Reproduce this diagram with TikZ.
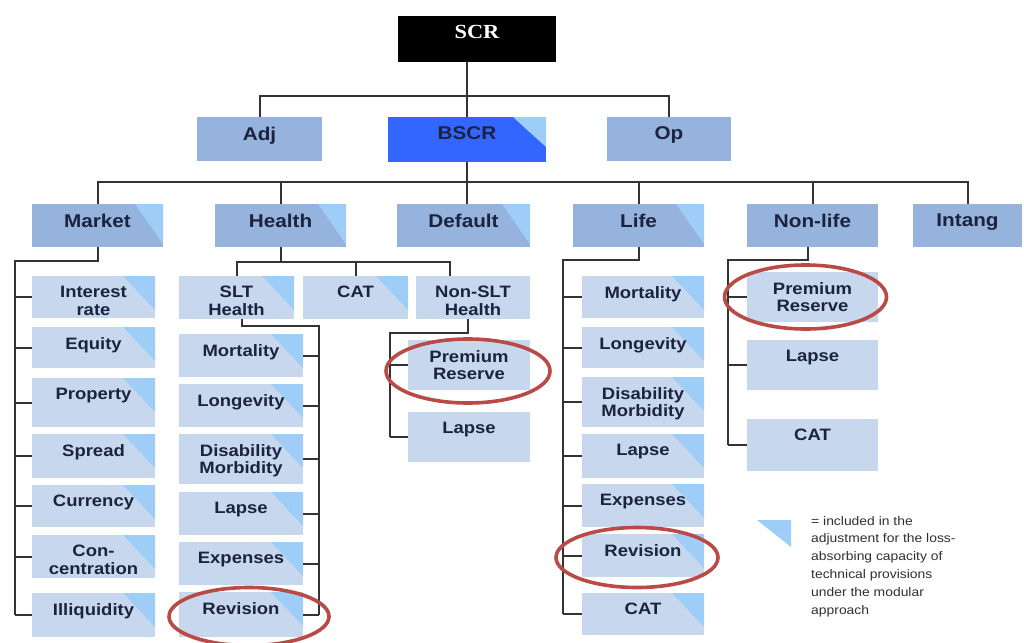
\documentclass[tikz,border=0pt]{standalone}
\usepackage{fontspec}
\newfontfamily\boxfont[FakeStretch=1.12]{Liberation Sans}
\newfontfamily\topfont[FakeStretch=1.12]{Liberation Serif}
\usetikzlibrary{calc}

\definecolor{lvlfill}{HTML}{95B3DC}
\definecolor{subfill}{HTML}{C7D8EE}
\definecolor{triblue}{HTML}{9ECDF8}
\definecolor{bscrblue}{HTML}{3366FF}
\definecolor{labink}{HTML}{1C2340}
\definecolor{wire}{HTML}{333333}
\definecolor{ringred}{HTML}{BA4A45}
\definecolor{noteink}{HTML}{303030}

\tikzset{
  box/.style={draw=none, inner sep=0pt, outer sep=0pt, anchor=north west},
  lvl/.style={box, fill=lvlfill},
  sub/.style={box, fill=subfill},
  topbox/.style={box, fill=black},
  bscrbox/.style={box, fill=bscrblue},
  corner/.style n args={2}{path picture={\fill[triblue]
      (path picture bounding box.north east) -- ++(-#1,0pt) -- ++(#1,-#2) -- cycle;}},
  subcorner/.style={corner={32pt}{34pt}},
  lvlcorner/.style={corner={28pt}{40pt}},
  subtxt/.style={font=\boxfont\bfseries\fontsize{16.5}{17.5}\selectfont,
      text=labink, align=center, inner sep=0pt, anchor=north, yshift=-10pt},
  lvltxt/.style={font=\boxfont\bfseries\fontsize{18.5}{19}\selectfont,
      text=labink, align=center, inner sep=0pt, anchor=north, yshift=-9.5pt},
  scrtxt/.style={font=\topfont\bfseries\fontsize{20}{21}\selectfont,
      text=white, align=center, inner sep=0pt, anchor=north, yshift=-9pt},
  conn/.style={draw=wire, line width=2pt},
  ring/.style={draw=ringred, line width=3.6pt},
  note/.style={font=\boxfont\fontsize{12.4}{17.8}\selectfont, text=noteink,
      align=left, inner sep=0pt, anchor=north west},
}

% \bx{name}{x1}{y1}{x2}{y2}{box style}{text}{text style}
\newcommand\bx[8]{%
  \node[#6, minimum width={(#4-#2)*1pt}, minimum height={(#5-#3)*1pt},
        label={[name=#1-t, #8]north:{#7}}] (#1) at (#2,#3) {};}

\begin{document}
\begin{tikzpicture}[x=1pt, y=-1pt]
\useasboundingbox (0,0) rectangle (1024,642);

% ---- top levels
\bx{SCR}{398}{16}{556}{62}{topbox}{SCR}{scrtxt}
\bx{Adj}{197}{117}{322}{161}{lvl}{Adj}{lvltxt}
\bx{BSCR}{388}{117}{546}{162}{bscrbox, corner={33pt}{30pt}}{BSCR}{lvltxt}
\bx{Op}{607}{117}{731}{161}{lvl}{Op}{lvltxt}

% ---- risk modules
\bx{Market}{32}{204}{163}{247}{lvl, lvlcorner}{Market}{lvltxt}
\bx{Health}{215}{204}{346}{247}{lvl, lvlcorner}{Health}{lvltxt}
\bx{Default}{397}{204}{530}{247}{lvl, lvlcorner}{Default}{lvltxt}
\bx{Life}{573}{204}{704}{247}{lvl, lvlcorner}{Life}{lvltxt}
\bx{Nonlife}{747}{204}{878}{247}{lvl}{Non-life}{lvltxt}
\bx{Intang}{913}{204}{1022}{247}{lvl}{Intang}{lvltxt}

% ---- market sub-modules
\bx{mIR}{32}{276}{155}{318}{sub, subcorner}{Interest\\rate}{subtxt}
\bx{mEq}{32}{327}{155}{368}{sub, subcorner}{Equity}{subtxt}
\bx{mPr}{32}{378}{155}{427}{sub, subcorner}{Property}{subtxt}
\bx{mSp}{32}{434}{155}{478}{sub, subcorner}{Spread}{subtxt}
\bx{mCu}{32}{485}{155}{527}{sub, subcorner}{Currency}{subtxt}
\bx{mCo}{32}{535}{155}{578}{sub, subcorner}{Con-\\centration}{subtxt}
\bx{mIl}{32}{593}{155}{637}{sub, subcorner}{Illiquidity}{subtxt}

% ---- health sub-modules
\bx{SLT}{179}{276}{294}{319}{sub, subcorner}{SLT\\Health}{subtxt}
\bx{hCAT}{303}{276}{408}{319}{sub, subcorner}{CAT}{subtxt}
\bx{NSLT}{416}{276}{530}{319}{sub}{Non-SLT\\Health}{subtxt}

\bx{sMo}{179}{334}{303}{377}{sub, subcorner}{Mortality}{subtxt}
\bx{sLo}{179}{384}{303}{427}{sub, subcorner}{Longevity}{subtxt}
\bx{sDi}{179}{434}{303}{484}{sub, subcorner}{Disability\\Morbidity}{subtxt}
\bx{sLa}{179}{492}{303}{535}{sub, subcorner}{Lapse}{subtxt}
\bx{sEx}{179}{542}{303}{585}{sub, subcorner}{Expenses}{subtxt}
\bx{sRe}{179}{592}{303}{637}{sub, subcorner}{Revision}{subtxt}

\bx{nPR}{408}{340}{530}{390}{sub}{Premium\\Reserve}{subtxt}
\bx{nLa}{408}{412}{530}{462}{sub}{Lapse}{subtxt}

% ---- life sub-modules
\bx{lMo}{582}{276}{704}{318}{sub, subcorner}{Mortality}{subtxt}
\bx{lLo}{582}{327}{704}{368}{sub, subcorner}{Longevity}{subtxt}
\bx{lDi}{582}{377}{704}{427}{sub, subcorner}{Disability\\Morbidity}{subtxt}
\bx{lLa}{582}{434}{704}{478}{sub, subcorner}{Lapse}{subtxt}
\bx{lEx}{582}{484}{704}{527}{sub, subcorner}{Expenses}{subtxt}
\bx{lRe}{582}{534}{704}{577}{sub, subcorner}{Revision}{subtxt}
\bx{lCA}{582}{593}{704}{635}{sub, subcorner}{CAT}{subtxt}

% ---- non-life sub-modules
\bx{nlPR}{747}{272}{878}{322}{sub}{Premium\\Reserve}{subtxt}
\bx{nlLa}{747}{340}{878}{390}{sub}{Lapse}{subtxt}
\bx{nlCA}{747}{419}{878}{471}{sub}{CAT}{subtxt}

% ---- connectors: top levels
\coordinate (bus1) at (0,96);
\coordinate (bus2) at (0,182);
\draw[conn] (Adj.north) |- (Op.north |- bus1) -- (Op.north);
\draw[conn] (BSCR.north) -- (BSCR.north |- SCR.south);
\draw[conn] (Market.north) |- (Intang.north |- bus2) -- (Intang.north);
\foreach \m in {Health, Life, Nonlife}
  \draw[conn] (\m.north) -- (\m.north |- bus2);
\draw[conn] (BSCR.south) -- (BSCR.south |- Default.north);

% ---- market tree
\coordinate (mspine) at (15,261);
\draw[conn] (Market.south) |- (mspine) -- (mspine |- mIl.west);
\foreach \c in {mIR, mEq, mPr, mSp, mCu, mCo, mIl}
  \draw[conn] (mspine |- \c.west) -- (\c.west);

% ---- health tree
\coordinate (hbus) at (0,262);
\draw[conn] (Health.south) -- (Health.south |- hbus);
\draw[conn] (SLT.north) |- ([xshift=-23pt]NSLT.north |- hbus) -- ([xshift=-23pt]NSLT.north);
\draw[conn] (hCAT.north) -- (hCAT.north |- hbus);

\coordinate (sspine) at (319,326);
\draw[conn] ([xshift=5pt]SLT.south) |- (sspine) -- (sspine |- sRe.east);
\foreach \c in {sMo, sLo, sDi, sLa, sEx, sRe}
  \draw[conn] (sspine |- \c.east) -- (\c.east);

\coordinate (nspine) at (390,333);
\draw[conn] ([xshift=-5pt]NSLT.south) |- (nspine) -- (nspine |- nLa.west);
\foreach \c in {nPR, nLa}
  \draw[conn] (nspine |- \c.west) -- (\c.west);

% ---- life tree
\coordinate (lspine) at (563,260);
\draw[conn] (Life.south) |- (lspine) -- (lspine |- lCA.west);
\foreach \c in {lMo, lLo, lDi, lLa, lEx, lRe, lCA}
  \draw[conn] (lspine |- \c.west) -- (\c.west);

% ---- non-life tree
\coordinate (nlspine) at (728,260);
\draw[conn] ([xshift=-5pt]Nonlife.south) |- (nlspine) -- (nlspine |- nlCA.west);
\foreach \c in {nlPR, nlLa, nlCA}
  \draw[conn] (nlspine |- \c.west) -- (\c.west);

% ---- highlighted sub-modules
\draw[ring] ([xshift=-7pt]nlPR.center) ellipse [x radius=81, y radius=32];
\draw[ring] ([xshift=-1pt,yshift=-6pt]nPR.center) ellipse [x radius=82, y radius=32];
\draw[ring] ([xshift=8pt,yshift=-2pt]sRe.center) ellipse [x radius=80, y radius=29];
\draw[ring] ([xshift=-6pt,yshift=-2pt]lRe.center) ellipse [x radius=81, y radius=30];

% ---- legend
\coordinate (keytri) at (757,520);
\fill[triblue] (keytri) -- ++(34,0) -- ++(0,27) -- cycle;
\node[note] (keytext) at (811,516) {= included in the\\adjustment for the loss-\\absorbing capacity of\\technical provisions\\under the modular\\approach};
\end{tikzpicture}
\end{document}
